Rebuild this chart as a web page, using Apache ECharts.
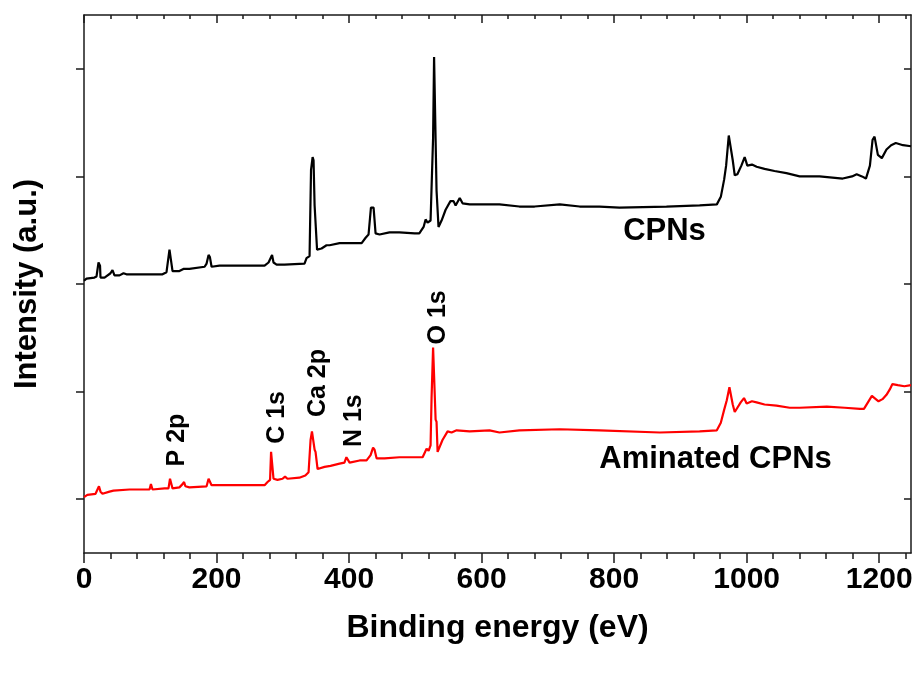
<!DOCTYPE html>
<html>
<head>
<meta charset="utf-8">
<script src="https://cdn.jsdelivr.net/npm/echarts@6/dist/echarts.min.js"></script>
<style>html,body{margin:0;padding:0;background:#fff}#chart{width:916px;height:674px}</style>
</head>
<body>
<div id="chart"></div>
<script>
// CPNs (black) survey spectrum: binding energy (eV) and intensity (a.u.)
const energyCPN = [0,3.8,15.8,18.9,21.9,24.2,24.9,31,40,43,46,53.6,59.6,64,118.5,124.5,129,132,133.6,144,150,159,182,185,188,190,192.5,204.5,272.5,278.5,281.5,283.8,286,290.6,302.6,332.8,335.8,340.4,342.6,345,346.4,348,349.4,351.7,358.5,366,370.6,385.7,408,419,425,429.4,433,437,440,446,461,476,499,506,512.5,515.5,518.5,523,526.8,528.3,530.2,532,533.6,535,539.6,545.7,553,557.7,560.8,567,571.3,582,627,657,680,718,748,778,808,879,929,955,961,966,969,973,976,979,982,986,992,997,1001,1008,1015,1027,1042,1060,1080,1110,1145,1159,1166,1174,1180,1186,1190,1193,1198,1204,1211,1218,1225,1236,1248];
const intensityCPN = [3.03,3.05,3.06,3.07,3.20,3.17,3.06,3.06,3.10,3.13,3.08,3.08,3.10,3.09,3.09,3.11,3.32,3.32,3.12,3.12,3.14,3.14,3.16,3.19,3.27,3.25,3.16,3.17,3.17,3.20,3.24,3.27,3.20,3.18,3.18,3.19,3.24,3.26,4.06,4.18,4.15,3.73,3.73,3.32,3.33,3.36,3.36,3.38,3.38,3.38,3.43,3.46,3.71,3.71,3.47,3.46,3.48,3.48,3.47,3.47,3.53,3.60,3.57,3.59,4.36,5.11,5.11,3.87,3.87,3.53,3.59,3.69,3.77,3.77,3.73,3.80,3.75,3.74,3.74,3.72,3.72,3.74,3.72,3.72,3.71,3.72,3.73,3.74,3.81,3.97,4.10,4.38,4.38,4.15,4.01,4.02,4.10,4.18,4.10,4.11,4.09,4.07,4.05,4.03,4.00,4.00,3.98,4.00,4.02,4.00,3.98,4.10,4.34,4.37,4.20,4.17,4.25,4.29,4.31,4.29,4.28];

// Aminated CPNs (red)
const energyAm = [0,5,17.4,20.4,22.6,24.9,27.9,38.5,44.5,68.7,94.3,98.9,101,103.4,121.5,127.5,129.8,132,133.6,144,148.7,151,153,159,185,188,190,192.5,235,272.5,277,280.8,282.3,284.5,286,292,299.6,303.4,307,325,334,338.9,341.9,344,345.7,348,349.4,352.5,363,372,385.7,393,396,398.5,400.8,416,426.4,432.5,436.2,438.5,441.5,453.6,476,491,511,514,517,520,523,524.5,526.8,529,530.6,532,533.6,536.6,541,548.7,554.7,562.3,582,612,627,657,718,778,869,929,955,961,966,970,974,976,979,982,986,991,996,1000,1008,1015,1027,1045,1065,1080,1121,1148,1171,1177,1183,1189,1193,1199,1205,1211,1216,1220,1228,1238,1248];
const intensityAm = [1.02,1.04,1.05,1.06,1.12,1.07,1.05,1.07,1.08,1.09,1.09,1.09,1.14,1.09,1.10,1.10,1.19,1.19,1.10,1.11,1.14,1.16,1.12,1.11,1.12,1.19,1.19,1.13,1.13,1.13,1.16,1.18,1.44,1.44,1.19,1.18,1.19,1.21,1.19,1.20,1.22,1.25,1.55,1.63,1.63,1.46,1.44,1.28,1.30,1.31,1.33,1.34,1.39,1.39,1.34,1.36,1.36,1.41,1.48,1.46,1.38,1.38,1.39,1.39,1.39,1.43,1.47,1.45,1.50,1.94,2.41,2.41,1.74,1.72,1.44,1.44,1.55,1.63,1.62,1.64,1.63,1.64,1.62,1.64,1.65,1.64,1.62,1.63,1.64,1.71,1.83,1.92,2.04,2.04,1.88,1.81,1.85,1.90,1.94,1.89,1.91,1.90,1.88,1.87,1.85,1.85,1.86,1.85,1.84,1.84,1.90,1.96,1.94,1.91,1.93,1.97,2.02,2.07,2.06,2.05,2.06];

// Axis ticks
const xMajorTicks = [0,200,400,600,800,1000,1200];
const xMinorTicks = [40,80,120,160,240,280,320,360,440,480,520,560,640,680,720,760,840,880,920,960,1040,1080,1120,1160,1240];
const yTicks = [1,2,3,4,5];

// Annotations (data coordinates)
const peakLabels = ['P 2p','C 1s','Ca 2p','N 1s','O 1s'];
const peakLabelX = [141,292,354,408,535];
const peakLabelY = [1.55,1.76,2.08,1.73,2.69];
const sampleLabels = ['CPNs','Aminated CPNs'];
const sampleLabelX = [876,953];
const sampleLabelY = [3.49,1.37];

const FONT = '"Liberation Sans", Arial, Helvetica, sans-serif';
const AXIS_COLOR = '#1a1a1a';
const xMin = 0, xMax = 1248, yMin = 0.5, yMax = 5.5;

function zip(a, b){ return a.map((v,i)=>[v,b[i]]); }

const chart = echarts.init(document.getElementById('chart'), null, {renderer:'canvas'});

function baseX(extra){
  return Object.assign({
    type:'value', min:xMin, max:xMax, gridIndex:0,
    splitLine:{show:false},
    axisLine:{show:false},
    axisLabel:{show:false},
    axisTick:{show:false}
  }, extra);
}

const option = {
  animation:false,
  backgroundColor:'#fff',
  grid:{left:84, right:5, top:15, bottom:121, containLabel:false, outerBoundsMode:'none'},
  xAxis:[
    baseX({
      position:'bottom',
      axisLine:{show:true, onZero:false, lineStyle:{color:AXIS_COLOR, width:1.5}},
      axisTick:{show:true, inside:false, length:10, customValues:xMajorTicks, lineStyle:{color:AXIS_COLOR, width:1.5}},
      axisLabel:{show:true, customValues:xMajorTicks, margin:12, color:'#000', fontFamily:FONT, fontWeight:'bold', fontSize:30,
        formatter:function(v){ return String(v); }},
      name:'Binding energy (eV)', nameLocation:'middle', nameGap:59,
      nameTextStyle:{color:'#000', fontFamily:FONT, fontWeight:'bold', fontSize:32}
    }),
    baseX({
      position:'bottom',
      axisTick:{show:true, inside:false, length:6, customValues:xMinorTicks, lineStyle:{color:AXIS_COLOR, width:1.5}}
    }),
    baseX({
      position:'top',
      axisLine:{show:true, onZero:false, lineStyle:{color:AXIS_COLOR, width:1.5}},
      axisTick:{show:true, inside:true, length:8, customValues:xMajorTicks, lineStyle:{color:AXIS_COLOR, width:1.5}}
    }),
    baseX({
      position:'top',
      axisTick:{show:true, inside:true, length:4, customValues:xMinorTicks, lineStyle:{color:AXIS_COLOR, width:1.5}}
    })
  ],
  yAxis:[
    {
      type:'value', min:yMin, max:yMax, position:'left',
      splitLine:{show:false},
      axisLine:{show:true, onZero:false, lineStyle:{color:AXIS_COLOR, width:1.5}},
      axisTick:{show:true, inside:false, length:8, customValues:yTicks, lineStyle:{color:AXIS_COLOR, width:1.5}},
      axisLabel:{show:false},
      name:'Intensity (a.u.)', nameLocation:'middle', nameGap:41,
      nameTextStyle:{color:'#000', fontFamily:FONT, fontWeight:'bold', fontSize:31}
    },
    {
      type:'value', min:yMin, max:yMax, position:'right',
      splitLine:{show:false},
      axisLine:{show:true, onZero:false, lineStyle:{color:AXIS_COLOR, width:1.5}},
      axisTick:{show:true, inside:true, length:7, customValues:yTicks, lineStyle:{color:AXIS_COLOR, width:1.5}},
      axisLabel:{show:false}
    }
  ],
  series:[
    {
      name:'CPNs', type:'line', xAxisIndex:0, yAxisIndex:0,
      data:zip(energyCPN, intensityCPN),
      showSymbol:false, symbol:'none',
      lineStyle:{color:'#000000', width:2.2},
      itemStyle:{color:'#000000'}
    },
    {
      name:'Aminated CPNs', type:'line', xAxisIndex:0, yAxisIndex:0,
      data:zip(energyAm, intensityAm),
      showSymbol:false, symbol:'none',
      lineStyle:{color:'#ff0000', width:2.2},
      itemStyle:{color:'#ff0000'}
    }
  ]
};
chart.setOption(option);

const graphics = [];
peakLabels.forEach((t,i)=>{
  const p = chart.convertToPixel({xAxisIndex:0, yAxisIndex:0}, [peakLabelX[i], peakLabelY[i]]);
  graphics.push({
    type:'text', x:p[0], y:p[1], rotation:Math.PI/2, silent:true,
    style:{text:t, fill:'#000', font:'bold 25px ' + FONT, textAlign:'center', textVerticalAlign:'middle', align:'center', verticalAlign:'middle'}
  });
});
sampleLabels.forEach((t,i)=>{
  const p = chart.convertToPixel({xAxisIndex:0, yAxisIndex:0}, [sampleLabelX[i], sampleLabelY[i]]);
  graphics.push({
    type:'text', x:p[0], y:p[1], silent:true,
    style:{text:t, fill:'#000', font:'bold 31px ' + FONT, textAlign:'center', textVerticalAlign:'middle', align:'center', verticalAlign:'middle'}
  });
});
chart.setOption({graphic:graphics});
</script>
</body>
</html>
